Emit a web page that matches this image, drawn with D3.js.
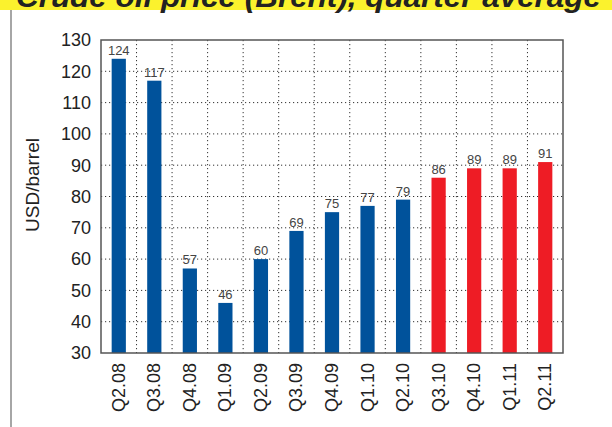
<!DOCTYPE html>
<html><head><meta charset="utf-8">
<script src="https://cdn.jsdelivr.net/npm/d3@7"></script>
<style>body{margin:0;background:#fff;}svg{display:block;}</style>
</head><body>
<svg id="c" width="612" height="427"></svg>
<script>
const categories = ["Q2.08","Q3.08","Q4.08","Q1.09","Q2.09","Q3.09","Q4.09","Q1.10","Q2.10","Q3.10","Q4.10","Q1.11","Q2.11"];
const values = [124,117,57,46,60,69,75,77,79,86,89,89,91];
const forecast = [false,false,false,false,false,false,false,false,false,true,true,true,true];
const yTicks = [30,40,50,60,70,80,90,100,110,120,130];
const title = "Crude oil price (Brent), quarter average";
const yTitle = "USD/barrel";

const svg = d3.select("#c");
const m = {l:101, r:563, t:40, b:353};
const font = "'Liberation Sans', Arial, sans-serif";

// title band
svg.append("rect").attr("x",0).attr("y",0).attr("width",612).attr("height",10).attr("fill","#fbf22d");
svg.append("text").attr("x",16).attr("y",7).attr("font-family",font).attr("font-weight","bold")
  .attr("font-style","italic").attr("font-size",30).attr("fill","#222")
  .attr("textLength",585).attr("lengthAdjust","spacingAndGlyphs").text(title);
// left rule
svg.append("line").attr("x1",11).attr("x2",11).attr("y1",10).attr("y2",427).attr("stroke","#888").attr("stroke-width",1.5);

const x = d3.scaleBand().domain(categories).range([m.l,m.r]).padding(0);
const y = d3.scaleLinear().domain([30,130]).range([m.b,m.t]);

// grid
const g = svg.append("g");
g.selectAll(".hg").data(yTicks.slice(1,-1)).join("line")
  .attr("x1",m.l).attr("x2",m.r).attr("y1",d=>y(d)).attr("y2",d=>y(d))
  .attr("stroke","#333").attr("stroke-width",1).attr("stroke-dasharray","1.2,2.8");
g.selectAll(".vg").data(categories.slice(1)).join("line")
  .attr("x1",d=>x(d)).attr("x2",d=>x(d)).attr("y1",m.t).attr("y2",m.b)
  .attr("stroke","#333").attr("stroke-width",1).attr("stroke-dasharray","1.2,2.8");

// bars
const bw = x.bandwidth()*0.4;
svg.selectAll(".bar").data(values).join("rect")
  .attr("x",(d,i)=>x(categories[i])+x.bandwidth()/2-bw/2)
  .attr("y",d=>y(d)).attr("width",bw).attr("height",d=>y(30)-y(d))
  .attr("fill",(d,i)=>forecast[i]?"#ee1c25":"#00529b");
svg.selectAll(".vl").data(values).join("text")
  .attr("x",(d,i)=>x(categories[i])+x.bandwidth()/2).attr("y",d=>y(d)-4)
  .attr("text-anchor","middle").attr("font-family",font).attr("font-size",13).attr("fill","#444")
  .text(d=>d);

// frame
svg.append("rect").attr("x",m.l).attr("y",m.t).attr("width",m.r-m.l).attr("height",m.b-m.t)
  .attr("fill","none").attr("stroke","#555").attr("stroke-width",1.5);

// y axis labels
svg.selectAll(".yt").data(yTicks).join("text")
  .attr("x",91).attr("y",d=>y(d)).attr("dy","0.35em").attr("text-anchor","end")
  .attr("font-family",font).attr("font-size",18).attr("fill","#222").text(d=>d);
// x labels
svg.selectAll(".xt").data(categories).join("text")
  .attr("transform",d=>`translate(${x(d)+x.bandwidth()/2+6},363) rotate(-90)`)
  .attr("text-anchor","end").attr("font-family",font).attr("font-size",18).attr("fill","#222").text(d=>d);
// y title
svg.append("text").attr("transform","translate(39,185) rotate(-90)").attr("text-anchor","middle")
  .attr("font-family",font).attr("font-size",19).attr("fill","#222").text(yTitle);
</script>
</body></html>
